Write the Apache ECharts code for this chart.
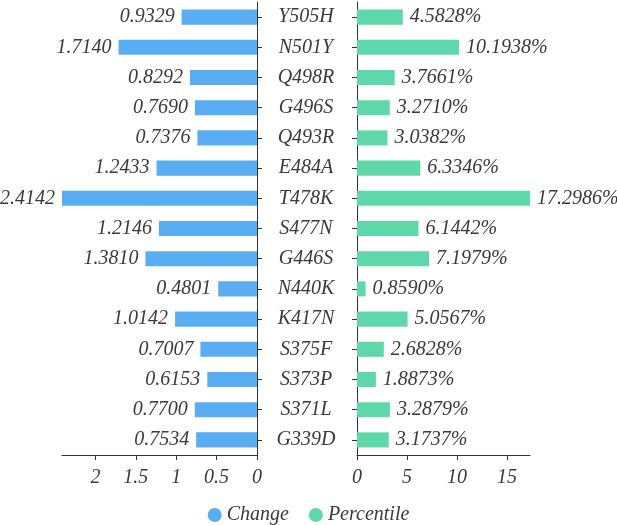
<!DOCTYPE html>
<html>
<head>
<meta charset="utf-8">
<script src="https://cdn.jsdelivr.net/npm/echarts@6/dist/echarts.min.js"></script>
<style>html,body{margin:0;padding:0;background:#fff}#c{width:617px;height:525px}</style>
</head>
<body>
<div id="c"></div>
<script>
const categories = ['Y505H','N501Y','Q498R','G496S','Q493R','E484A','T478K','S477N','G446S','N440K','K417N','S375F','S373P','S371L','G339D'];
const changeValues = [0.9329,1.7140,0.8292,0.7690,0.7376,1.2433,2.4142,1.2146,1.3810,0.4801,1.0142,0.7007,0.6153,0.7700,0.7534];
const percentileValues = [4.5828,10.1938,3.7661,3.2710,3.0382,6.3346,17.2986,6.1442,7.1979,0.8590,5.0567,2.6828,1.8873,3.2879,3.1737];

const FONT = '"Liberation Serif", serif';
const TXT = '#3a3a3a';
const lineStyle = {color: '#333', width: 1};
const chart = echarts.init(document.getElementById('c'));
chart.setOption({
  animation: false,
  textStyle: {fontFamily: FONT, fontStyle: 'italic', color: TXT},
  legend: {
    top: 500, left: 'center', icon: 'circle', itemWidth: 14, itemHeight: 14, itemGap: 20,
    textStyle: {fontFamily: FONT, fontStyle: 'italic', fontSize: 20, color: TXT},
    data: ['Change', 'Percentile']
  },
  grid: [
    {left: 62, right: 360, top: 2, bottom: 70},
    {left: 357, right: 87, top: 2, bottom: 70}
  ],
  xAxis: [
    {gridIndex: 0, type: 'value', inverse: true, min: 0, max: 'dataMax', interval: 0.5,
     splitLine: {show: false}, axisLine: {show: true, lineStyle}, axisTick: {show: true, length: 5, lineStyle},
     axisLabel: {fontFamily: FONT, fontStyle: 'italic', fontSize: 20, color: TXT, margin: 13, showMaxLabel: false}},
    {gridIndex: 1, type: 'value', min: 0, max: 'dataMax', interval: 5,
     splitLine: {show: false}, axisLine: {show: true, lineStyle}, axisTick: {show: true, length: 5, lineStyle},
     axisLabel: {fontFamily: FONT, fontStyle: 'italic', fontSize: 20, color: TXT, margin: 13, showMaxLabel: false}}
  ],
  yAxis: [
    {gridIndex: 0, type: 'category', data: categories, inverse: true, position: 'right',
     axisLine: {show: true, lineStyle}, axisTick: {show: true, length: 5, alignWithLabel: true, lineStyle},
     axisLabel: {show: false}},
    {gridIndex: 1, type: 'category', data: categories, inverse: true, position: 'left',
     axisLine: {show: true, lineStyle}, axisTick: {show: true, length: 5, alignWithLabel: true, lineStyle},
     axisLabel: {show: true, align: 'center', margin: 51, fontFamily: FONT, fontStyle: 'italic', fontSize: 20, color: TXT}}
  ],
  series: [
    {name: 'Change', type: 'bar', xAxisIndex: 0, yAxisIndex: 0, data: changeValues, barWidth: '50%',
     itemStyle: {color: '#59adf2'},
     label: {show: true, position: 'left', distance: 7, fontFamily: FONT, fontStyle: 'italic', fontSize: 20, color: TXT,
       formatter: p => p.value.toFixed(4)}},
    {name: 'Percentile', type: 'bar', xAxisIndex: 1, yAxisIndex: 1, data: percentileValues, barWidth: '50%',
     itemStyle: {color: '#5ed8aa'},
     label: {show: true, position: 'right', distance: 7, fontFamily: FONT, fontStyle: 'italic', fontSize: 20, color: TXT,
       formatter: p => p.value.toFixed(4) + '%'}}
  ]
});
</script>
</body>
</html>
